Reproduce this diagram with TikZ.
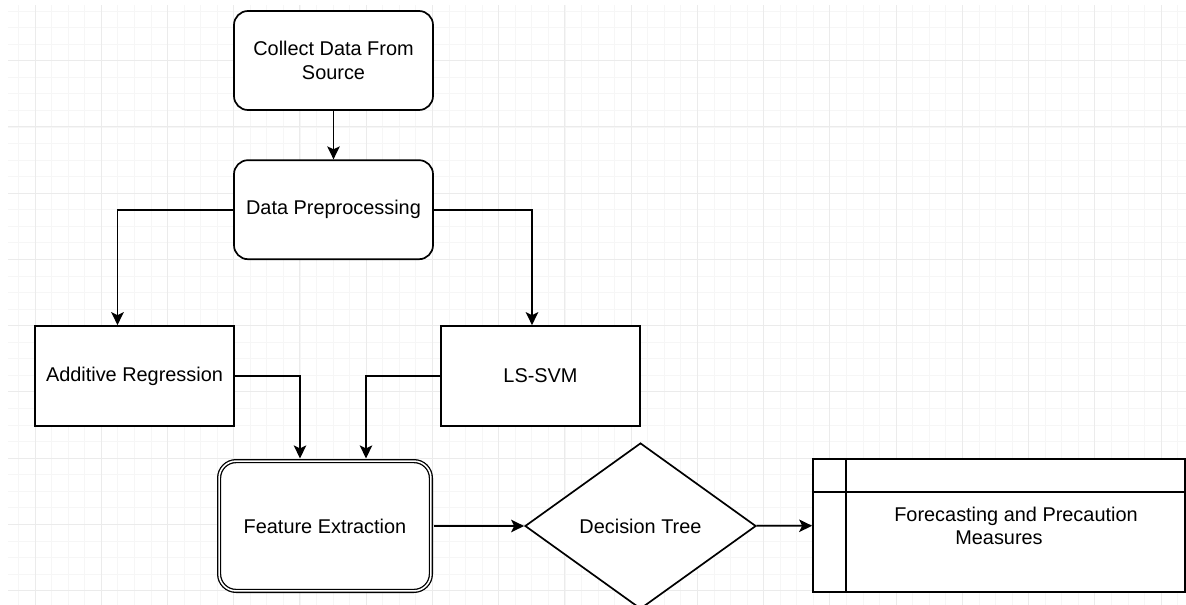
\documentclass[tikz,border=0pt]{standalone}
\usepackage{fontspec}
\setmainfont{Liberation Sans}
\usetikzlibrary{arrows.meta,shapes.geometric}

\tikzset{
  minorgrid/.style={draw=black!3.5, line width=0.8pt},
  majorgrid/.style={draw=black!8, line width=1pt},
  lbl/.style={font=\fontsize{19.9}{23.5}\selectfont, align=center, inner sep=0pt},
  roundbox/.style={lbl, draw, line width=1.7pt, fill=white, rounded corners=14pt,
    minimum width=199pt, minimum height=99pt},
  plainbox/.style={lbl, draw, line width=1.7pt, fill=white,
    minimum width=199pt, minimum height=100pt},
  featbox/.style={lbl, draw, line width=1.3pt, double, double distance=1.6pt,
    fill=white, rounded corners=17pt, minimum width=211.8pt, minimum height=129.8pt},
  decbox/.style={lbl, draw, line width=1.7pt, fill=white, diamond,
    minimum width=231pt, minimum height=166pt},
  storebox/.style={draw, line width=1.7pt, fill=white, inner sep=0pt,
    minimum width=372pt, minimum height=133pt},
  flow/.style={line width=1.7pt, -{Stealth[length=13pt,width=12.5pt,inset=3pt]}}
}

\begin{document}
\begin{tikzpicture}[x=1pt, y=-1pt]
    \clip (0,0) rectangle (1186,605);
    \fill[white] (0,0) rectangle (1186,605);
    % grid
    \foreach \i in {0,...,70} {
        \draw[minorgrid] (18.44+16.56*\i,5) -- (18.44+16.56*\i,605);
    }
    \foreach \i in {0,...,35} {
        \draw[minorgrid] (8,11+16.56*\i) -- (1186,11+16.56*\i);
    }
    \foreach \i in {0,...,17} {
        \draw[majorgrid] (35+66.24*\i,5) -- (35+66.24*\i,605);
    }
    \foreach \i in {0,...,8} {
        \draw[majorgrid] (8,60.7+66.24*\i) -- (1186,60.7+66.24*\i);
    }

    % boxes
    \node[roundbox] (collect) at (333.5,60.5) {Collect Data From\\Source};
    \node[roundbox] (prep) at (333.5,209.7) {Data Preprocessing};
    \node[plainbox] (addreg) at (134.5,376) {Additive Regression};
    \node[plainbox] (lssvm) at (540.5,376) {LS-SVM};
    \node[featbox] (feat) at (325,526) {Feature Extraction};
    \node[decbox] (dtree) at (640.5,526) {Decision Tree};
    \node[storebox] (fore) at (999,525.5) {};
    \draw[line width=1.7pt] ([xshift=34pt]fore.north west) -- ([xshift=34pt]fore.south west);
    \draw[line width=1.7pt] ([yshift=-33.5pt]fore.north west) -- ([yshift=-33.5pt]fore.north east);
    \node[lbl] (foretext) at (1016,526) {Forecasting and Precaution\\Measures\hspace*{34pt}};

    % arrows
    \draw[flow] (collect) -- (prep);
    \draw[flow] (prep.west) -| ([xshift=-17pt]addreg.north);
    \draw[flow] (prep.east) -| ([xshift=-8.5pt]lssvm.north);
    \draw[flow, shorten >=2pt] (addreg.east) -| ([xshift=-25pt]feat.north);
    \draw[flow, shorten >=2pt] (lssvm.west) -| ([xshift=41pt]feat.north);
    \draw[flow, shorten <=2pt] (feat) -- (dtree);
    \draw[flow] (dtree) -- (fore);
\end{tikzpicture}
\end{document}
